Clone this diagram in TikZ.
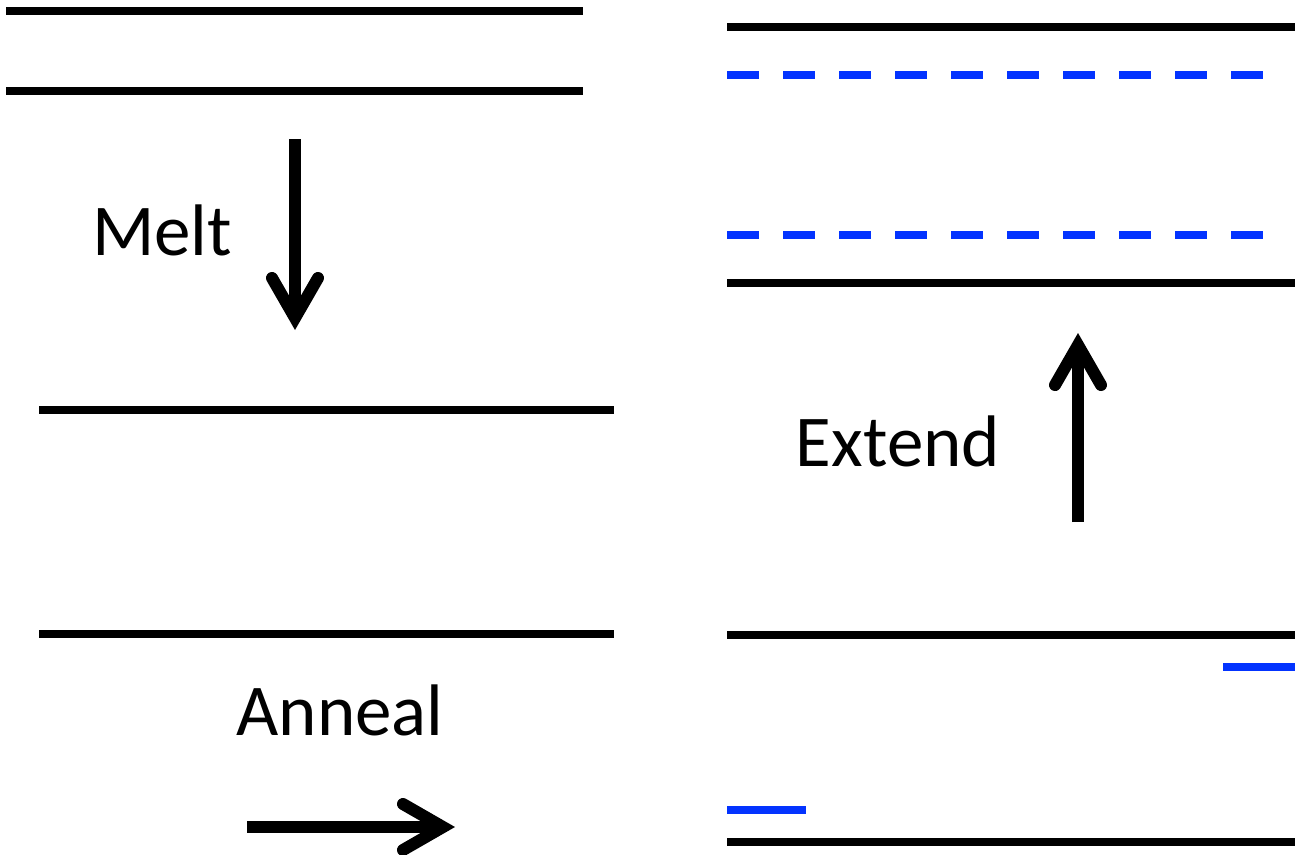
\documentclass[tikz,border=0pt]{standalone}
\usepackage{fontspec}
\setmainfont{Carlito}
\usetikzlibrary{arrows.meta}
\definecolor{primer}{RGB}{3,51,255}
\tikzset{
  strand/.style={line width=8pt, black},
  primerline/.style={line width=8pt, primer},
  dashprimer/.style={line width=8pt, primer, dash pattern=on 32pt off 24pt},
  bigarrow/.style={line width=12pt, black,
    -{Straight Barb[length=40pt, width=46pt, line cap=round, line join=miter]}},
  steplabel/.style={anchor=base, inner sep=0pt, font=\fontsize{73}{88}\selectfont}
}
\begin{document}
\begin{tikzpicture}[x=1pt, y=-1pt]
\useasboundingbox (0,0) rectangle (1295,854);

% double strand before melting
\coordinate (a1) at (6,11);   \coordinate (a2) at (583,11);
\coordinate (b1) at (6,91);   \coordinate (b2) at (583,91);
\draw[strand] (a1) -- (a2);
\draw[strand] (b1) -- (b2);

% melt step
\coordinate (meltA) at (295,139); \coordinate (meltB) at (295,330);
\draw[bigarrow] (meltA) -- (meltB);
\node[steplabel] (melt) at (162,255) {Melt};

% separated single strands
\coordinate (c1) at (39,410); \coordinate (c2) at (614,410);
\coordinate (d1) at (39,634); \coordinate (d2) at (614,634);
\draw[strand] (c1) -- (c2);
\draw[strand] (d1) -- (d2);

% anneal step
\node[steplabel] (anneal) at (340,735) {Anneal};
\coordinate (annA) at (247,827); \coordinate (annB) at (455,827);
\draw[bigarrow] (annA) -- (annB);

% strands with annealed primers
\coordinate (e1) at (727,635); \coordinate (e2) at (1295,635);
\coordinate (f1) at (727,842); \coordinate (f2) at (1295,842);
\draw[strand] (e1) -- (e2);
\draw[strand] (f1) -- (f2);
\coordinate (p1) at (1223,667); \coordinate (p2) at (1295,667);
\coordinate (q1) at (727,810);  \coordinate (q2) at (806,810);
\draw[primerline] (p1) -- (p2);
\draw[primerline] (q1) -- (q2);

% extend step
\coordinate (extA) at (1078,522); \coordinate (extB) at (1078,333);
\draw[bigarrow] (extA) -- (extB);
\node[steplabel] (extend) at (898,466) {Extend};

% extended products
\coordinate (g1) at (727,27);  \coordinate (g2) at (1295,27);
\coordinate (h1) at (727,283); \coordinate (h2) at (1295,283);
\draw[strand] (g1) -- (g2);
\draw[strand] (h1) -- (h2);
\coordinate (r1) at (727,75);  \coordinate (r2) at (1263,75);
\coordinate (s1) at (727,235); \coordinate (s2) at (1263,235);
\draw[dashprimer] (r1) -- (r2);
\draw[dashprimer] (s1) -- (s2);
\end{tikzpicture}
\end{document}
